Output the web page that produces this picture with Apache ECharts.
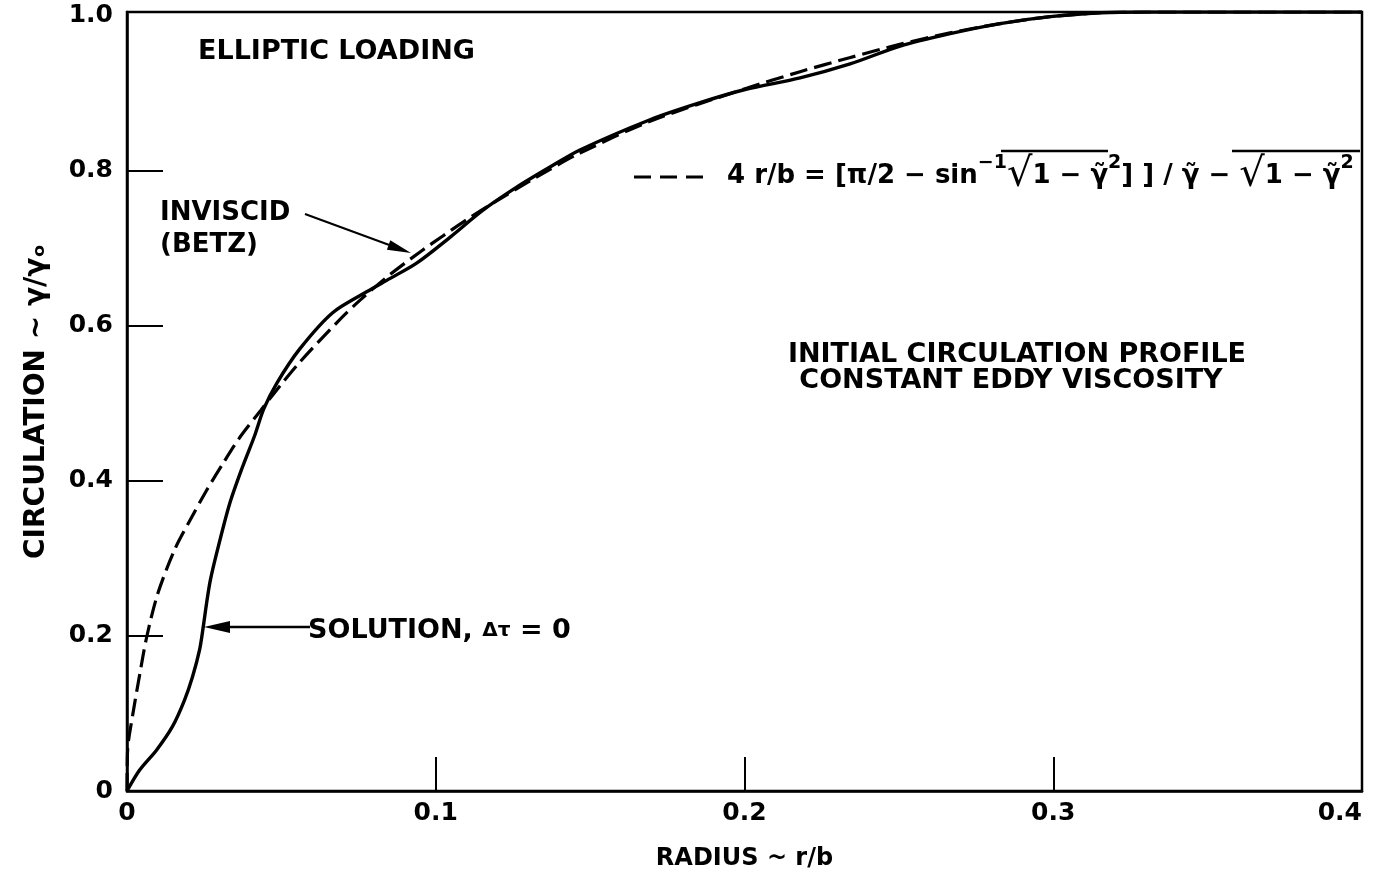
<!DOCTYPE html>
<html><head><meta charset="utf-8">
<script src="https://cdn.jsdelivr.net/npm/echarts@6/dist/echarts.min.js"></script>
<style>html,body{margin:0;padding:0;background:#fff}#c{width:1373px;height:875px}</style>
</head><body><div id="c"></div>
<script>
// Tick labels
const xTickValues = [0, 0.1, 0.2, 0.3, 0.4];
const xTickLabels = ['0', '0.1', '0.2', '0.3', '0.4'];
const yTickValues = [0, 0.2, 0.4, 0.6, 0.8, 1.0];
const yTickLabels = ['0', '0.2', '0.4', '0.6', '0.8', '1.0'];
// Solution, Δτ = 0  [r/b, γ/γo]
const solution = [
  [0,0],[0.0041,0.027],[0.0096,0.053],[0.0147,0.083],[0.0186,0.117],[0.0212,0.147],
  [0.0235,0.182],[0.0247,0.212],[0.0258,0.243],[0.0270,0.272],[0.0293,0.311],[0.0332,0.370],
  [0.0374,0.418],[0.0413,0.458],[0.0443,0.493],[0.0485,0.526],[0.0559,0.570],[0.0666,0.617],
  [0.0776,0.644],[0.0851,0.661],[0.0938,0.681],[0.1045,0.714],[0.1152,0.749],[0.1262,0.779],
  [0.137,0.805],[0.1467,0.827],[0.1694,0.866],[0.1856,0.888],[0.2002,0.905],[0.218,0.920],
  [0.2342,0.938],[0.2504,0.961],[0.2666,0.977],[0.2828,0.990],[0.299,0.999],[0.3155,1.004],
  [0.33,1.005],[0.4,1.005]
];
// Inviscid (Betz)  [r/b, γ/γo]
const betz = [
  [0,0],[0.0002,0.053],[0.0018,0.097],[0.0041,0.150],[0.0064,0.199],[0.0100,0.255],
  [0.0155,0.312],[0.0205,0.350],[0.0258,0.388],[0.031,0.422],[0.0365,0.456],
  [0.0433,0.491],[0.0494,0.522],[0.0559,0.553],[0.0679,0.604],[0.0754,0.633],[0.0851,0.666],
  [0.0958,0.698],[0.1023,0.716],[0.11,0.737],[0.12,0.762],[0.137,0.802],[0.1467,0.823],
  [0.1694,0.864],[0.2002,0.906],[0.218,0.928],[0.234,0.946],[0.25,0.963],[0.2666,0.978],
  [0.2828,0.990],[0.299,0.999],[0.3155,1.004],[0.33,1.005],[0.4,1.005]
];

const FONT = '"DejaVu Sans"';
const lab = (vals, labs) => v => { const i = vals.findIndex(t => Math.abs(t - v) < 1e-9); return i < 0 ? '' : labs[i]; };
const txt = {color:'#000', fontFamily:'DejaVu Sans', fontWeight:'bold', fontSize:25};

const chart = echarts.init(document.getElementById('c'), null, {renderer:'canvas'});
chart.setOption({
  animation: false,
  backgroundColor: '#fff',
  grid: {left:127, right:11, top:12, bottom:84, show:true, borderColor:'#000', borderWidth:2.5,
         containLabel:false, outerBoundsMode:'none'},
  xAxis: {
    type:'value', min:0, max:0.4, interval:0.1,
    axisLine:{lineStyle:{color:'#000', width:2.5}},
    axisTick:{inside:true, length:34, customValues:[0.1,0.2,0.3], lineStyle:{color:'#000', width:2}},
    splitLine:{show:false},
    axisLabel:Object.assign({customValues:xTickValues, formatter:lab(xTickValues,xTickLabels), margin:10,
      alignMaxLabel:'right'}, txt),
    name:'RADIUS ~ r/b', nameLocation:'middle', nameGap:56,
    nameTextStyle:Object.assign({}, txt, {fontSize:24})
  },
  yAxis: {
    type:'value', min:0, max:1.005, interval:0.2,
    axisLine:{lineStyle:{color:'#000', width:2.5}},
    axisTick:{inside:true, length:36, customValues:[0.2,0.4,0.6,0.8], lineStyle:{color:'#000', width:2}},
    splitLine:{show:false},
    axisLabel:Object.assign({customValues:yTickValues, formatter:lab(yTickValues,yTickLabels), margin:14}, txt),
    name:'CIRCULATION ~ γ/γₒ', nameLocation:'middle', nameGap:76, nameRotate:90,
    nameTextStyle:Object.assign({}, txt, {fontSize:28})
  },
  series: [
    {type:'line', data:betz, showSymbol:false, smooth:0.3,
     lineStyle:{color:'#000', width:3.2, type:[18,7]}},
    {type:'line', data:solution, showSymbol:false, smooth:0.3,
     lineStyle:{color:'#000', width:3.4}}
  ],
  graphic: [
    {type:'text', x:198, y:52, style:{text:'ELLIPTIC LOADING', fill:'#000', font:'bold 27px '+FONT, verticalAlign:'middle'}},
    {type:'text', x:160, y:213, style:{text:'INVISCID', fill:'#000', font:'bold 26px '+FONT, verticalAlign:'middle'}},
    {type:'text', x:160, y:245, style:{text:'(BETZ)', fill:'#000', font:'bold 26px '+FONT, verticalAlign:'middle'}},
    {type:'line', shape:{x1:305,y1:214,x2:392,y2:246}, style:{stroke:'#000', lineWidth:2}},
    {type:'polygon', shape:{points:[[411,253],[386.9,249.7],[390.3,240.3]]}, style:{fill:'#000'}},
    {type:'line', shape:{x1:228,y1:627,x2:310,y2:627}, style:{stroke:'#000', lineWidth:2.5}},
    {type:'polygon', shape:{points:[[204,627],[230,621],[230,633]]}, style:{fill:'#000'}},
    {type:'text', x:308, y:631, style:{text:'{a|SOLUTION, }{b|Δτ}{a| = 0}', fill:'#000', verticalAlign:'middle',
      rich:{a:{font:'bold 27px '+FONT, fill:'#000'}, b:{font:'bold 20px '+FONT, fill:'#000'}}}},
    {type:'text', x:1017, y:355, style:{text:'INITIAL CIRCULATION PROFILE', fill:'#000', font:'bold 27px '+FONT, align:'center', verticalAlign:'middle'}},
    {type:'text', x:1011, y:381, style:{text:'CONSTANT EDDY VISCOSITY', fill:'#000', font:'bold 27px '+FONT, align:'center', verticalAlign:'middle'}},
    {type:'line', shape:{x1:634,y1:177,x2:712,y2:177}, style:{stroke:'#000', lineWidth:3, lineDash:[17,9]}},
    {type:'text', x:727, y:176, style:{
      text:'{t|4 r/b = [π/2 − sin}{s|−1}{r|√}{t|1 − γ̃}{s|2}{t|] ] / γ̃ − }{r|√}{t|1 − γ̃}{s|2}',
      fill:'#000', verticalAlign:'middle',
      rich:{t:{font:'bold 26px '+FONT, fill:'#000', lineHeight:44},
            r:{font:'40px '+FONT, fill:'#000', lineHeight:44},
            s:{font:'bold 19px '+FONT, fill:'#000', verticalAlign:'top', lineHeight:20}}}},
    {type:'line', shape:{x1:1001,y1:151,x2:1108,y2:151}, style:{stroke:'#000', lineWidth:2.5}},
    {type:'line', shape:{x1:1232,y1:151,x2:1360,y2:151}, style:{stroke:'#000', lineWidth:2.5}}
  ]
});
</script></body></html>
